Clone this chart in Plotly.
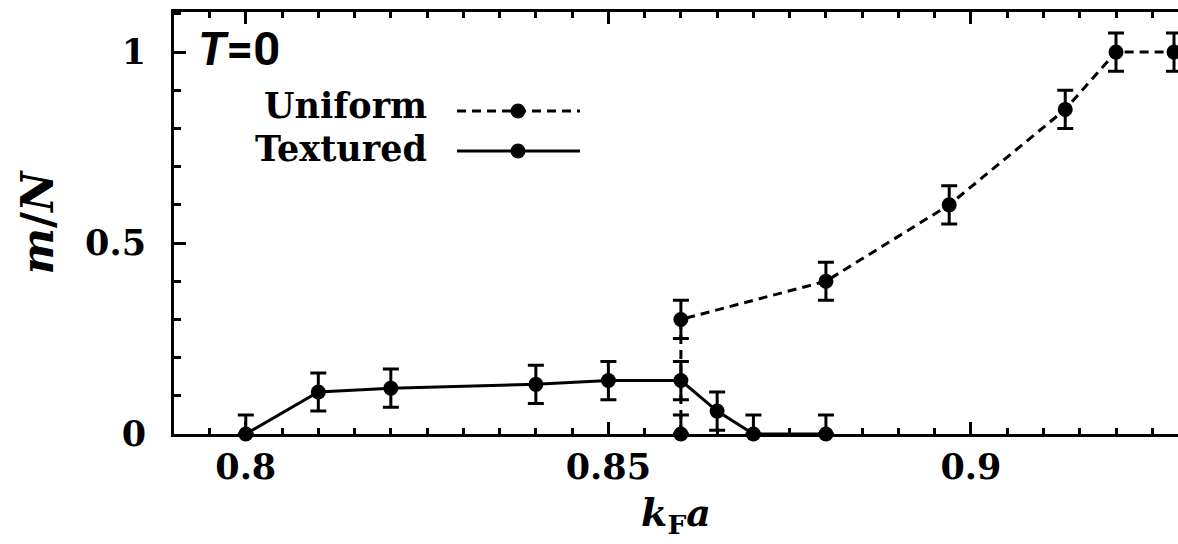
import plotly.graph_objects as go

# ---- data ----
uniform_x = [0.86, 0.86, 0.88, 0.897, 0.913, 0.92, 0.928]
uniform_y = [0.0, 0.30, 0.40, 0.60, 0.85, 1.00, 1.00]
uniform_err_plus = [0.05, 0.05, 0.05, 0.05, 0.05, 0.05, 0.05]
uniform_err_minus = [0.0, 0.05, 0.05, 0.05, 0.05, 0.05, 0.05]

textured_x = [0.80, 0.81, 0.82, 0.84, 0.85, 0.86, 0.865, 0.87, 0.88]
textured_y = [0.0, 0.11, 0.12, 0.13, 0.14, 0.14, 0.06, 0.0, 0.0]
textured_err_plus = [0.05, 0.05, 0.05, 0.05, 0.05, 0.05, 0.05, 0.05, 0.05]
textured_err_minus = [0.0, 0.05, 0.05, 0.05, 0.05, 0.05, 0.05, 0.0, 0.0]

x_ticks = [0.8, 0.85, 0.9]
x_ticklabels = ["0.8", "0.85", "0.9"]
y_ticks = [0, 0.5, 1]
y_ticklabels = ["0", "0.5", "1"]

SERIF = "DejaVu Serif"
BLACK = "black"

fig = go.Figure()

err_style = dict(type="data", symmetric=False, color=BLACK, thickness=3, width=8)

fig.add_trace(go.Scatter(
    x=uniform_x, y=uniform_y, mode="lines+markers", name="Uniform",
    line=dict(color=BLACK, width=3, dash="9px,6px"),
    marker=dict(color=BLACK, size=15, symbol="circle"),
    error_y=dict(array=uniform_err_plus, arrayminus=uniform_err_minus, **err_style),
    cliponaxis=False, showlegend=False,
))
fig.add_trace(go.Scatter(
    x=textured_x, y=textured_y, mode="lines+markers", name="Textured",
    line=dict(color=BLACK, width=3),
    marker=dict(color=BLACK, size=15, symbol="circle"),
    error_y=dict(array=textured_err_plus, arrayminus=textured_err_minus, **err_style),
    cliponaxis=False, showlegend=False,
))

# ---- legend (text left, key right, as in the reference) ----
legend_rows = [("Uniform", 0.7796, 0.7654, "9px,6px"),
               ("Textured", 0.6777, 0.6706, "solid")]
shapes = []
annotations = []
for name, ty, ly, dash in legend_rows:
    annotations.append(dict(
        text=name, xref="paper", yref="paper", x=0.254, y=ty,
        xanchor="right", yanchor="middle", showarrow=False,
        font=dict(family=SERIF, size=35, color=BLACK, weight="bold"),
    ))
    shapes.append(dict(type="line", xref="paper", yref="paper",
                       x0=0.2819, x1=0.4044, y0=ly, y1=ly,
                       line=dict(color=BLACK, width=3, dash=dash)))
    shapes.append(dict(type="circle", xref="paper", yref="paper",
                       xsizemode="pixel", ysizemode="pixel",
                       xanchor=0.3426, yanchor=ly,
                       x0=-7.5, x1=7.5, y0=-7.5, y1=7.5,
                       fillcolor=BLACK, line=dict(color=BLACK, width=0)))

annotations.append(dict(
    text="<i>T</i>=0", xref="paper", yref="paper", x=0.022, y=0.913,
    xanchor="left", yanchor="middle", showarrow=False,
    font=dict(family="Roboto", size=47, color=BLACK, weight="bold"),
))

axis_common = dict(
    showline=True, linecolor=BLACK, linewidth=3,
    ticks="inside", tickcolor=BLACK, tickwidth=3, ticklen=12,
    showgrid=False, zeroline=False,
    tickfont=dict(family=SERIF, size=35, color=BLACK, weight="bold"),
)

fig.update_layout(
    width=1178, height=544,
    margin=dict(l=174, r=0, t=12, b=110),
    paper_bgcolor="white", plot_bgcolor="white",
    xaxis=dict(
        range=[0.7901, 0.92855], tickvals=x_ticks, ticktext=x_ticklabels,
        mirror="ticks", ticklabelstandoff=0,
        minor=dict(dtick=0.005, tick0=0.8, ticks="inside", ticklen=6,
                   tickwidth=3, tickcolor=BLACK),
        title=dict(text="<i>k</i><sub>F</sub><i>a</i>", standoff=14,
                   font=dict(family=SERIF, size=38, color=BLACK, weight="bold")),
        **axis_common,
    ),
    yaxis=dict(
        range=[0, 1.105], tickvals=y_ticks, ticktext=y_ticklabels,
        mirror=False, ticklabelstandoff=18,
        minor=dict(dtick=0.1, tick0=0, ticks="inside", ticklen=7,
                   tickwidth=3, tickcolor=BLACK),
        title=dict(text="<i>m</i>/<i>N</i>", standoff=18,
                   font=dict(family=SERIF, size=44, color=BLACK, weight="bold")),
        **axis_common,
    ),
    shapes=shapes,
    annotations=annotations,
)

fig.write_html("out.html", config={"displayModeBar": False},
               post_script="document.body.style.margin='0';")
